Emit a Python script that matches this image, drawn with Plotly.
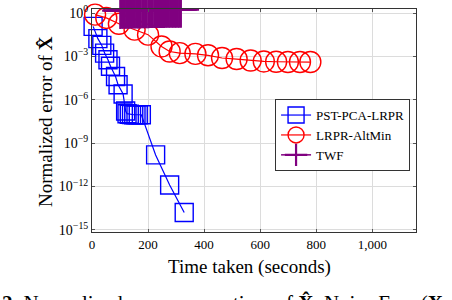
import plotly.graph_objects as go

# ---- data ----
pst_x = [4, 21, 35, 45, 57, 66, 84, 93, 111, 120, 125, 133, 141, 149, 157, 165, 176, 227, 277, 329]
pst_y = [1.2e-1, 1.7e-2, 5.8e-3, 1.7e-3, 5.9e-4, 2.1e-4, 4.1e-5, 1.1e-5, 2.5e-6, 1.7e-7,
         1.1e-7, 1.0e-7, 9.5e-8, 9.3e-8, 9.3e-8, 9.3e-8, 9.3e-8, 1.55e-10, 1.3e-12, 1.6e-14]

alt_x = [11, 51, 96, 152, 200, 248, 277, 313, 369, 414, 464, 516, 566, 613, 657, 699, 742, 779]
alt_y = [0.78, 0.46, 0.18, 0.071, 0.032, 4.9e-3, 2.2e-3, 1.7e-3, 1.5e-3, 1.2e-3,
         7.8e-4, 6.6e-4, 5.2e-4, 4.5e-4, 4.3e-4, 4.1e-4, 4.1e-4, 4.1e-4]

twf_x = [101, 106, 111, 117, 122, 127, 132, 138, 143, 148, 153, 159, 164, 169, 174, 180,
         185, 190, 195, 201, 206, 211, 216, 222, 227, 232, 237, 243, 248, 253, 258, 264,
         269, 274, 279, 285, 290, 295, 300, 306, 311, 317]
twf_y = [1.45, 1.46, 1.47, 1.48, 1.49, 1.50, 1.51, 1.52, 1.53, 1.54, 1.55, 1.56, 1.57, 1.58,
         1.59, 1.60, 1.61, 1.62, 1.63, 1.64, 1.65, 1.66, 1.67, 1.68, 1.68, 1.69, 1.69, 1.70,
         1.70, 1.71, 1.71, 1.72, 1.72, 1.72, 1.73, 1.73, 1.73, 1.74, 1.74, 1.74, 1.75, 1.75]

x_ticks = [0, 200, 400, 600, 800, 1000]
x_ticktext = ["0", "200", "400", "600", "800", "1,000"]
y_ticks = [1, 1e-3, 1e-6, 1e-9, 1e-12, 1e-15]
y_ticktext = ["10<sup>0</sup>", "10<sup>\u22123</sup>", "10<sup>\u22126</sup>",
              "10<sup>\u22129</sup>", "10<sup>\u221212</sup>", "10<sup>\u221215</sup>"]

FONT = "Liberation Serif"
BLUE = "#0000ff"
RED = "#ff0000"
PURPLE = "#800080"

fig = go.Figure()
fig.add_trace(go.Scatter(
    x=pst_x, y=pst_y, name="PST-PCA-LRPR", mode="lines+markers",
    line=dict(color=BLUE, width=1.2),
    marker=dict(symbol="square-open", size=18, color=BLUE, line=dict(width=1.4, color=BLUE)),
    cliponaxis=False))
fig.add_trace(go.Scatter(
    x=alt_x, y=alt_y, name="LRPR-AltMin", mode="lines+markers",
    line=dict(color=RED, width=1.2),
    marker=dict(symbol="circle-open", size=21, color=RED, line=dict(width=1.4, color=RED)),
    cliponaxis=False))
fig.add_trace(go.Scatter(
    x=twf_x, y=twf_y, name="TWF", mode="lines+markers",
    line=dict(color=PURPLE, width=1.5),
    marker=dict(symbol="cross-thin", size=26, color=PURPLE, line=dict(width=2.2, color=PURPLE)),
    cliponaxis=False))

axis_common = dict(showline=True, linecolor="#333333", linewidth=1, mirror="ticks",
                   ticks="inside", ticklen=3, tickcolor="#555555",
                   showgrid=True, gridcolor="#dcdcdc", gridwidth=1, zeroline=False,
                   tickfont=dict(family=FONT, size=13, color="black"))

fig.update_xaxes(range=[0, 1156], tickvals=x_ticks, ticktext=x_ticktext, **axis_common)
fig.update_yaxes(type="log", range=[-15.14, 0.28], tickvals=y_ticks, ticktext=y_ticktext,
                 **axis_common)
fig.update_yaxes(tickfont=dict(family=FONT, size=14, color="black"))

fig.update_layout(
    width=452, height=300,
    margin=dict(l=92, r=36, t=9, b=68, autoexpand=False),
    paper_bgcolor="white", plot_bgcolor="white",
    font=dict(family=FONT, color="black"),
    showlegend=True,
    legend=dict(x=0.565, y=0.596, xanchor="left", yanchor="top",
                bgcolor="white", bordercolor="#333333", borderwidth=1,
                font=dict(family=FONT, size=13, color="black"),
                tracegroupgap=0, itemwidth=30),
    annotations=[
        dict(text="Time taken (seconds)", xref="paper", yref="paper", x=0.487, y=0,
             xanchor="center", yanchor="middle", yshift=-35, showarrow=False,
             font=dict(family=FONT, size=19, color="black")),
        dict(text="Normalized error of <b>X\u0302</b>", xref="paper", yref="paper",
             x=-47 / 324, y=0.493, xanchor="center", yanchor="middle", textangle=-90,
             showarrow=False, font=dict(family=FONT, size=19, color="black")),
        dict(text="<b>2</b>: Normalized error versus time of <b>X\u0302</b>. Noise Free (<b>X</b>",
             xref="paper", yref="paper", x=-92 / 324, y=0, xanchor="left", yanchor="top",
             yshift=-57, showarrow=False, font=dict(family=FONT, size=21, color="black")),
    ],
)

fig.write_html("out.html", config={"displayModeBar": False},
               post_script="document.body.style.margin='0';document.body.style.overflow='hidden';")
